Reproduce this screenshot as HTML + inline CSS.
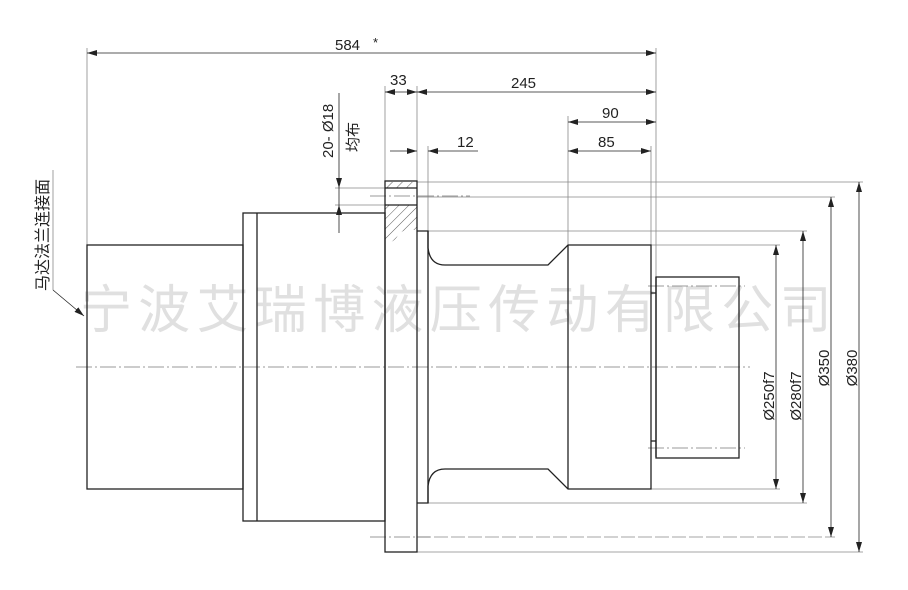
<!DOCTYPE html>
<html><head><meta charset="utf-8"><style>
html,body{margin:0;padding:0;background:#fff;}
svg{display:block;}
text{font-family:"Liberation Sans","Noto Sans CJK SC",sans-serif;fill:#222;}
</style></head><body>
<svg width="908" height="590" viewBox="0 0 908 590" xmlns="http://www.w3.org/2000/svg">
<defs>
<marker id="a" viewBox="0 0 10 6" refX="10" refY="3" markerWidth="10" markerHeight="6" orient="auto-start-reverse" markerUnits="userSpaceOnUse"><path d="M0,0 L10,3 L0,6 z" fill="#222"/></marker>
<pattern id="h" patternUnits="userSpaceOnUse" width="7" height="7" patternTransform="rotate(45)"><line x1="0" y1="0" x2="0" y2="7" stroke="#333" stroke-width="0.8"/></pattern>
</defs>
<text x="80" y="328" font-size="52" style="fill:#e0e0e0" letter-spacing="6.3">宁波艾瑞博液压传动有限公司</text>

<g stroke="#888" stroke-width="0.8" fill="none">
<line x1="87" y1="48" x2="87" y2="245"/>
<line x1="656" y1="48" x2="656" y2="277"/>
<line x1="385" y1="86" x2="385" y2="181"/>
<line x1="417" y1="86" x2="417" y2="181"/>
<line x1="428" y1="146" x2="428" y2="231"/>
<line x1="568" y1="116" x2="568" y2="245"/>
<line x1="651" y1="146" x2="651" y2="245"/>
<line x1="417" y1="182" x2="863" y2="182"/>
<line x1="417" y1="197" x2="835" y2="197"/>
<line x1="417" y1="231" x2="807" y2="231"/>
<line x1="651" y1="245" x2="780" y2="245"/>
<line x1="651" y1="489" x2="780" y2="489"/>
<line x1="428" y1="503" x2="807" y2="503"/>
<line x1="417" y1="537" x2="835" y2="537" stroke-dasharray="14,3"/>
<line x1="417" y1="552" x2="863" y2="552"/>
<line x1="335" y1="188" x2="385" y2="188"/>
<line x1="335" y1="205" x2="385" y2="205"/>
<line x1="53" y1="170" x2="53" y2="290"/>
<line x1="53" y1="290" x2="84" y2="316" marker-end="url(#a)" stroke="#222"/>
</g>
<g stroke="#777" stroke-width="0.8" stroke-dasharray="16,3,2,3" fill="none">
<line x1="76" y1="367" x2="750" y2="367"/>
<line x1="370" y1="196" x2="470" y2="196"/>
<line x1="370" y1="537" x2="430" y2="537"/>
<line x1="648" y1="286" x2="745" y2="286"/>
<line x1="648" y1="448" x2="745" y2="448"/>
</g>
<g stroke="#222" stroke-width="0.8" fill="none">
<line x1="87" y1="53" x2="656" y2="53" marker-start="url(#a)" marker-end="url(#a)"/>
<line x1="385" y1="92" x2="417" y2="92" marker-start="url(#a)" marker-end="url(#a)"/>
<line x1="417" y1="92" x2="656" y2="92" marker-start="url(#a)" marker-end="url(#a)"/>
<line x1="568" y1="122" x2="656" y2="122" marker-start="url(#a)" marker-end="url(#a)"/>
<line x1="568" y1="151" x2="651" y2="151" marker-start="url(#a)" marker-end="url(#a)"/>
<line x1="390" y1="151" x2="417" y2="151" marker-end="url(#a)"/>
<line x1="478" y1="151" x2="428" y2="151" marker-end="url(#a)"/>
<line x1="339" y1="93" x2="339" y2="188" marker-end="url(#a)"/>
<line x1="339" y1="233" x2="339" y2="205" marker-end="url(#a)"/>
<line x1="339" y1="188" x2="339" y2="205"/>
<line x1="776" y1="245" x2="776" y2="489" marker-start="url(#a)" marker-end="url(#a)"/>
<line x1="803" y1="231" x2="803" y2="503" marker-start="url(#a)" marker-end="url(#a)"/>
<line x1="831" y1="197" x2="831" y2="537" marker-start="url(#a)" marker-end="url(#a)"/>
<line x1="859" y1="182" x2="859" y2="552" marker-start="url(#a)" marker-end="url(#a)"/>
</g>
<rect x="385" y="182" width="32" height="6" fill="url(#h)"/>
<path d="M385,205 L417,205 L417,230 L410,230 Q400,230 397,237 Q393,243 385,243 Z" fill="url(#h)"/>
<g stroke="#222" stroke-width="1.3" fill="none">
<rect x="87" y="245" width="156" height="244"/>
<rect x="243" y="213" width="142" height="308"/>
<line x1="257" y1="213" x2="257" y2="521"/>
<rect x="385" y="181" width="32" height="371"/>
<line x1="385" y1="188" x2="417" y2="188"/>
<line x1="385" y1="205" x2="417" y2="205"/>
<path d="M417,231 L428,231 L428,248 Q430,265 445,265 L548,265 L568,245 L651,245 L651,489 L568,489 L548,469 L445,469 Q430,469 428,486 L428,503 L417,503"/>
<line x1="428" y1="231" x2="428" y2="503"/>
<line x1="568" y1="245" x2="568" y2="489"/>
<line x1="656" y1="277" x2="656" y2="457"/>
<rect x="656" y="277" width="83" height="181"/>
<line x1="651" y1="293" x2="656" y2="293"/>
<line x1="651" y1="441" x2="656" y2="441"/>
</g>
<text x="335" y="50" font-size="15">584</text>
<text x="373" y="47" font-size="13">*</text>
<text x="390" y="85" font-size="15">33</text>
<text x="511" y="88" font-size="15">245</text>
<text x="602" y="118" font-size="15">90</text>
<text x="598" y="147" font-size="15">85</text>
<text x="457" y="147" font-size="15">12</text>
<text transform="translate(333,158) rotate(-90)" font-size="15">20- Ø18</text>
<text transform="translate(358,152) rotate(-90)" font-size="15">均布</text>
<text transform="translate(48,291) rotate(-90)" font-size="16">马达法兰连接面</text>
<text transform="translate(774,396) rotate(-90)" font-size="15" text-anchor="middle">Ø250f7</text>
<text transform="translate(801,396) rotate(-90)" font-size="15" text-anchor="middle">Ø280f7</text>
<text transform="translate(829,368) rotate(-90)" font-size="15" text-anchor="middle">Ø350</text>
<text transform="translate(857,368) rotate(-90)" font-size="15" text-anchor="middle">Ø380</text>
</svg>
</body></html>
